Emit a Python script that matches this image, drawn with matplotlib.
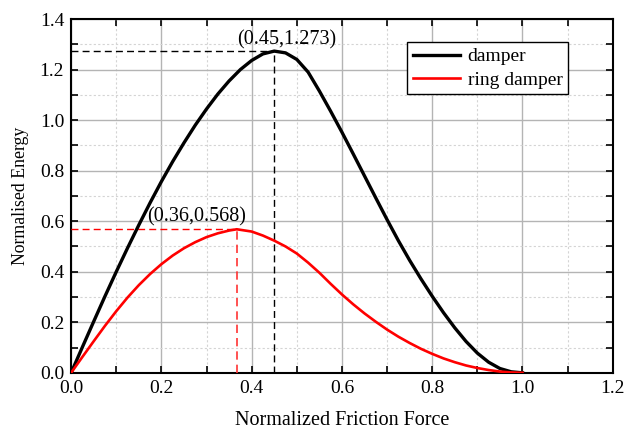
import matplotlib.pyplot as plt
from matplotlib.ticker import MultipleLocator

plt.rcParams['font.family'] = ['Liberation Serif', 'DejaVu Serif']

# values
x_damper = [0.0, 0.025, 0.05, 0.075, 0.1, 0.125, 0.15, 0.175, 0.2, 0.225, 0.25,
            0.275, 0.3, 0.325, 0.35, 0.375, 0.4, 0.425, 0.45, 0.475, 0.5, 0.525,
            0.55, 0.575, 0.6, 0.625, 0.65, 0.675, 0.7, 0.725, 0.75, 0.775, 0.8,
            0.825, 0.85, 0.875, 0.9, 0.925, 0.95, 0.975, 1.0]
y_damper = [0.0, 0.102, 0.203, 0.303, 0.4, 0.494, 0.585, 0.673, 0.757, 0.836, 0.91,
            0.98, 1.044, 1.103, 1.155, 1.2, 1.236, 1.262, 1.273, 1.266, 1.24, 1.19,
            1.115, 1.035, 0.952, 0.866, 0.779, 0.692, 0.606, 0.523, 0.445, 0.372, 0.303,
            0.238, 0.178, 0.124, 0.078, 0.042, 0.017, 0.004, 0.0]

x_ring = [0.0, 0.025, 0.05, 0.075, 0.1, 0.125, 0.15, 0.175, 0.2, 0.225, 0.25,
          0.275, 0.3, 0.325, 0.35, 0.367, 0.4, 0.425, 0.45, 0.475, 0.5, 0.525,
          0.55, 0.575, 0.6, 0.625, 0.65, 0.675, 0.7, 0.725, 0.75, 0.775, 0.8,
          0.825, 0.85, 0.875, 0.9, 0.925, 0.95, 0.975, 1.0]
y_ring = [0.0, 0.063, 0.125, 0.186, 0.244, 0.298, 0.347, 0.391, 0.43, 0.464, 0.493,
          0.517, 0.537, 0.552, 0.563, 0.568, 0.559, 0.543, 0.523, 0.5, 0.472, 0.436,
          0.396, 0.352, 0.31, 0.271, 0.235, 0.202, 0.171, 0.143, 0.118, 0.095, 0.075,
          0.057, 0.042, 0.029, 0.019, 0.011, 0.005, 0.0015, 0.0]

peak_damper = (0.45, 1.273)
peak_ring = (0.367, 0.568)

fig = plt.figure(figsize=(6.24, 4.32), dpi=100)
ax = fig.add_axes([0.114, 0.137, 0.868, 0.819])

ax.plot(x_damper, y_damper, color='black', lw=2.4, label='damper', zorder=4,
        solid_joinstyle='round')
ax.plot(x_ring, y_ring, color='red', lw=1.9, label='ring damper', zorder=4,
        solid_joinstyle='round')

# dashed guide lines to the peaks
dash = (0, (5, 3))
ax.plot([0, peak_damper[0]], [peak_damper[1]] * 2, color='black', ls=dash, lw=1.0, zorder=3)
ax.plot([peak_damper[0]] * 2, [0, peak_damper[1]], color='black', ls=dash, lw=1.0, zorder=3)
ax.plot([0, peak_ring[0]], [peak_ring[1]] * 2, color='red', ls=dash, lw=1.0, zorder=3)
ax.plot([peak_ring[0]] * 2, [0, peak_ring[1]], color='#ff3333', ls=dash, lw=1.2, zorder=3)

ax.text(0.478, 1.278, '(0.45,1.273)', ha='center', va='bottom', fontsize=14.5, zorder=5)
ax.text(0.278, 0.578, '(0.36,0.568)', ha='center', va='bottom', fontsize=14.5, zorder=5)

ax.set_xlim(0, 1.2)
ax.set_ylim(0, 1.4)
ax.xaxis.set_major_locator(MultipleLocator(0.2))
ax.xaxis.set_minor_locator(MultipleLocator(0.1))
ax.yaxis.set_major_locator(MultipleLocator(0.2))
ax.yaxis.set_minor_locator(MultipleLocator(0.1))
ax.xaxis.set_major_formatter(lambda v, p: f'{v:.1f}')
ax.yaxis.set_major_formatter(lambda v, p: f'{v:.1f}')

ax.grid(which='major', color='#b4b4b4', lw=1.0, ls='-')
ax.grid(which='minor', color='#d4d4d4', lw=0.8, ls=(0, (2, 2)))
ax.set_axisbelow(True)

ax.tick_params(which='both', direction='in', top=True, right=True, labelsize=14, width=1.2)
ax.tick_params(which='major', length=5, pad=5)
ax.tick_params(which='minor', length=5)
for s in ax.spines.values():
    s.set_linewidth(1.5)

ax.set_xlabel('Normalized Friction Force', fontsize=14.5, labelpad=10)
ax.set_ylabel('Normalised Energy', fontsize=12.8, labelpad=8)

leg = ax.legend(loc='upper right', bbox_to_anchor=(0.918, 0.935), fontsize=14,
                frameon=True, fancybox=False, edgecolor='black', framealpha=1,
                handlelength=2.4, borderpad=0.3, labelspacing=0.28, handletextpad=0.4,
                borderaxespad=0)
leg.get_frame().set_linewidth(1.0)

fig.savefig('out.png', dpi=100)
